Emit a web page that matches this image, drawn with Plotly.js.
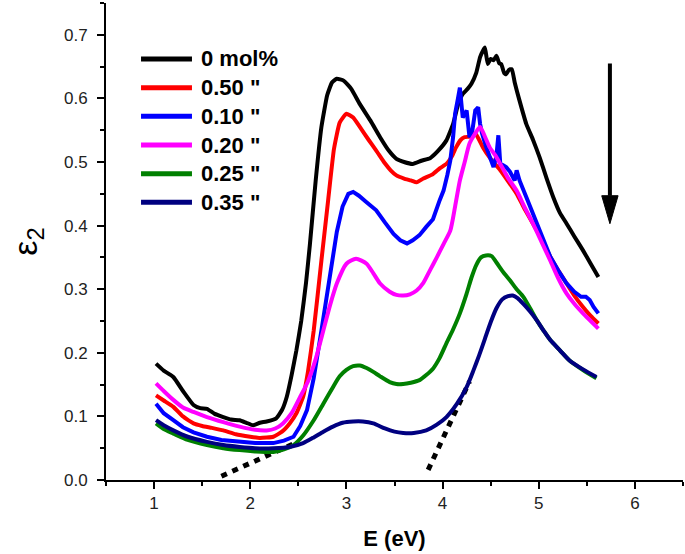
<!DOCTYPE html>
<html><head><meta charset="utf-8">
<script src="https://cdn.plot.ly/plotly-3.0.1.min.js"></script>
<style>html,body{margin:0;padding:0;background:#fff}#chart{width:685px;height:554px}</style>
</head><body><div id="chart"></div>
<script>
// Series names (legend)
const seriesNames = ['0 mol%', '0.50 "', '0.10 "', '0.20 "', '0.25 "', '0.35 "'];
const seriesColors = ['#000000', '#ff0000', '#0000ff', '#ff00ff', '#008000', '#000080'];

// 0 mol%
const x0 = [1.02,1.1,1.2,1.3,1.41,1.48,1.55,1.63,1.72,1.8,1.89,1.96,2.03,2.1,2.17,2.27,2.33,2.38,2.43,2.48,2.53,2.58,2.62,2.68,2.74,2.8,2.85,2.9,2.97,3.05,3.14,3.25,3.35,3.44,3.52,3.6,3.69,3.78,3.87,3.95,4.04,4.11,4.16,4.21,4.26,4.3,4.35,4.39,4.42,4.44,4.47,4.5,4.53,4.56,4.59,4.61,4.64,4.66,4.69,4.72,4.75,4.79,4.87,4.94,5.01,5.08,5.15,5.22,5.29,5.37,5.46,5.54,5.62];
const y0 = [0.183,0.172,0.162,0.14,0.118,0.113,0.112,0.104,0.099,0.095,0.094,0.09,0.086,0.09,0.092,0.097,0.11,0.131,0.165,0.204,0.25,0.31,0.37,0.47,0.555,0.605,0.625,0.631,0.628,0.615,0.591,0.565,0.539,0.518,0.505,0.5,0.497,0.502,0.506,0.517,0.534,0.56,0.59,0.607,0.615,0.623,0.64,0.665,0.675,0.68,0.654,0.662,0.66,0.667,0.655,0.654,0.64,0.638,0.645,0.646,0.625,0.602,0.56,0.535,0.507,0.475,0.445,0.42,0.403,0.383,0.361,0.34,0.319];

// 0.50 "
const x1 = [1.02,1.1,1.2,1.3,1.41,1.5,1.6,1.72,1.85,2.0,2.1,2.24,2.33,2.41,2.48,2.55,2.6,2.66,2.74,2.81,2.87,2.93,3.0,3.07,3.15,3.23,3.31,3.4,3.46,3.52,3.6,3.67,3.73,3.8,3.9,3.97,4.04,4.1,4.14,4.19,4.23,4.28,4.34,4.38,4.42,4.5,4.6,4.68,4.77,4.85,4.94,5.03,5.12,5.2,5.29,5.37,5.46,5.54,5.62];
const y1 = [0.133,0.125,0.115,0.1,0.089,0.085,0.082,0.078,0.072,0.068,0.066,0.068,0.076,0.089,0.105,0.131,0.17,0.235,0.345,0.44,0.52,0.562,0.576,0.57,0.553,0.535,0.518,0.498,0.487,0.479,0.474,0.471,0.468,0.474,0.481,0.49,0.497,0.51,0.523,0.535,0.539,0.54,0.545,0.535,0.523,0.505,0.487,0.47,0.45,0.427,0.403,0.378,0.351,0.33,0.309,0.29,0.272,0.258,0.246];

// 0.10 "
const x2 = [1.02,1.1,1.2,1.3,1.41,1.55,1.7,1.89,2.05,2.24,2.35,2.45,2.52,2.59,2.66,2.74,2.8,2.85,2.9,2.96,3.02,3.07,3.13,3.2,3.31,3.4,3.49,3.56,3.63,3.69,3.76,3.83,3.9,3.97,4.01,4.05,4.08,4.11,4.13,4.16,4.18,4.2,4.21,4.23,4.25,4.28,4.31,4.34,4.37,4.39,4.41,4.45,4.49,4.53,4.56,4.58,4.59,4.6,4.63,4.66,4.7,4.75,4.77,4.8,4.87,4.94,5.03,5.12,5.2,5.29,5.37,5.44,5.49,5.53,5.57,5.62];
const y2 = [0.12,0.105,0.094,0.083,0.075,0.068,0.063,0.06,0.058,0.058,0.062,0.068,0.085,0.11,0.16,0.235,0.29,0.345,0.39,0.43,0.45,0.453,0.447,0.438,0.424,0.405,0.387,0.377,0.372,0.377,0.385,0.398,0.41,0.44,0.455,0.48,0.502,0.54,0.576,0.6,0.617,0.585,0.57,0.575,0.581,0.539,0.55,0.581,0.586,0.56,0.545,0.525,0.507,0.492,0.51,0.542,0.52,0.497,0.495,0.492,0.485,0.471,0.487,0.471,0.445,0.419,0.385,0.351,0.33,0.309,0.296,0.288,0.288,0.283,0.272,0.262];

// 0.20 "
const x3 = [1.02,1.1,1.2,1.3,1.41,1.55,1.72,1.89,2.05,2.17,2.26,2.34,2.43,2.52,2.6,2.68,2.76,2.83,2.9,3.0,3.1,3.21,3.28,3.35,3.45,3.52,3.59,3.66,3.73,3.8,3.87,3.94,4.01,4.08,4.13,4.18,4.23,4.28,4.34,4.39,4.44,4.49,4.55,4.6,4.68,4.77,4.85,4.94,5.03,5.12,5.2,5.29,5.37,5.46,5.54,5.62];
const y3 = [0.152,0.14,0.126,0.114,0.107,0.099,0.091,0.084,0.079,0.078,0.081,0.089,0.105,0.131,0.155,0.19,0.235,0.275,0.309,0.34,0.348,0.34,0.325,0.309,0.296,0.291,0.29,0.292,0.298,0.31,0.33,0.35,0.371,0.392,0.43,0.471,0.5,0.529,0.545,0.555,0.54,0.523,0.51,0.497,0.475,0.455,0.43,0.403,0.374,0.345,0.318,0.293,0.277,0.262,0.25,0.238];

// 0.25 "
const x4 = [1.02,1.1,1.2,1.35,1.55,1.72,1.89,2.05,2.24,2.35,2.45,2.55,2.66,2.76,2.86,2.93,3.0,3.07,3.14,3.21,3.28,3.35,3.45,3.52,3.59,3.67,3.76,3.83,3.9,3.97,4.04,4.11,4.18,4.25,4.3,4.35,4.4,4.45,4.51,4.56,4.63,4.7,4.77,4.84,4.91,4.98,5.05,5.12,5.22,5.32,5.46,5.6];
const y4 = [0.089,0.08,0.073,0.063,0.055,0.05,0.047,0.045,0.044,0.048,0.055,0.07,0.094,0.12,0.146,0.163,0.173,0.179,0.18,0.176,0.17,0.163,0.154,0.151,0.151,0.153,0.157,0.165,0.175,0.192,0.215,0.237,0.262,0.293,0.318,0.338,0.35,0.353,0.352,0.342,0.327,0.314,0.3,0.288,0.27,0.251,0.235,0.22,0.204,0.188,0.173,0.16];

// 0.35 "
const x5 = [1.02,1.1,1.2,1.35,1.55,1.72,1.89,2.05,2.24,2.41,2.55,2.66,2.76,2.86,2.96,3.07,3.17,3.28,3.4,3.5,3.59,3.7,3.83,3.94,4.04,4.15,4.25,4.32,4.38,4.44,4.5,4.56,4.62,4.68,4.73,4.78,4.84,4.91,4.98,5.05,5.12,5.22,5.32,5.46,5.6];
const y5 = [0.094,0.086,0.078,0.068,0.06,0.055,0.052,0.05,0.05,0.052,0.058,0.067,0.076,0.084,0.09,0.092,0.092,0.089,0.081,0.076,0.074,0.074,0.078,0.087,0.099,0.12,0.146,0.172,0.196,0.222,0.248,0.27,0.284,0.289,0.29,0.286,0.277,0.265,0.251,0.235,0.22,0.204,0.188,0.174,0.162];

// Tangent (extrapolation) lines
const tangent1X = [1.70, 2.45];
const tangent1Y = [0.006, 0.057];
const tangent2X = [3.85, 4.28];
const tangent2Y = [0.016, 0.155];

// Arrow (trend)
const arrowX = 5.74;
const arrowY = [0.655, 0.403];

const xs = [x0, x1, x2, x3, x4, x5];
const ys = [y0, y1, y2, y3, y4, y5];
const lineShapes = ['spline', 'spline', 'linear', 'spline', 'spline', 'spline'];

const traces = [];
traces.push({x: tangent1X, y: tangent1Y, mode: 'lines', line: {color: '#000', width: 5, dash: '6px,6px'}, showlegend: false, hoverinfo: 'skip'});
traces.push({x: tangent2X, y: tangent2Y, mode: 'lines', line: {color: '#000', width: 5, dash: '6px,6px'}, showlegend: false, hoverinfo: 'skip'});
for (let i = 0; i < 6; i++) {
  traces.push({
    x: xs[i], y: ys[i], name: seriesNames[i], mode: 'lines',
    line: {color: seriesColors[i], width: 4, shape: lineShapes[i], smoothing: i < 2 ? 0.4 : 0.6},
    showlegend: false
  });
}

const shapes = [];
const annotations = [];
// Manual legend
const legTop = 0.8826, legStep = 0.0601;
for (let i = 0; i < 6; i++) {
  const yy = legTop - i * legStep;
  shapes.push({type: 'line', xref: 'paper', yref: 'paper', x0: 0.0607, x1: 0.149, y0: yy, y1: yy,
    line: {color: seriesColors[i], width: 5}});
  annotations.push({xref: 'paper', yref: 'paper', x: 0.162, y: yy, xanchor: 'left', yanchor: 'middle',
    text: '<b>' + seriesNames[i] + '</b>', showarrow: false,
    font: {family: 'Arial, Liberation Sans, sans-serif', size: 22, color: '#000'}});
}
// Arrow
const headLen = 0.044, headHalf = 0.085;
shapes.push({type: 'line', xref: 'x', yref: 'y', x0: arrowX, x1: arrowX, y0: arrowY[0], y1: arrowY[1] + headLen,
  line: {color: '#000', width: 4}});
shapes.push({type: 'path', xref: 'x', yref: 'y',
  path: 'M' + (arrowX - headHalf) + ',' + (arrowY[1] + headLen) + ' L' + (arrowX + headHalf) + ',' + (arrowY[1] + headLen) + ' L' + arrowX + ',' + arrowY[1] + ' Z',
  fillcolor: '#000', line: {color: '#000', width: 1}});

const layout = {
  width: 685, height: 554,
  margin: {l: 106, r: 2, t: 3, b: 74},
  paper_bgcolor: '#fff', plot_bgcolor: '#fff',
  font: {family: 'Arial, Liberation Sans, sans-serif', color: '#000'},
  showlegend: false,
  xaxis: {
    range: [0.5, 6.5], dtick: 1, tick0: 0, ticks: 'outside', ticklen: 7, tickwidth: 2, tickcolor: '#000',
    showline: true, linewidth: 2, linecolor: '#000', showgrid: false, zeroline: false,
    tickfont: {size: 17, color: '#222'},
    minor: {dtick: 0.5, ticks: 'outside', ticklen: 4, tickwidth: 2, tickcolor: '#000', showgrid: false},
    title: {text: '<b>E (eV)</b>', font: {size: 22, color: '#000'}, standoff: 18}
  },
  yaxis: {
    range: [0, 0.75], dtick: 0.1, tick0: 0, tickformat: '.1f', ticks: 'outside', ticklen: 7, tickwidth: 2, tickcolor: '#000',
    showline: true, linewidth: 2, linecolor: '#000', showgrid: false, zeroline: false,
    tickfont: {size: 17, color: '#222'}, ticklabelstandoff: 6,
    minor: {dtick: 0.05, ticks: 'outside', ticklen: 4, tickwidth: 2, tickcolor: '#000', showgrid: false},
    title: {text: 'ε<sub>2</sub>', font: {size: 34, color: '#000'}, standoff: 16}
  },
  shapes: shapes,
  annotations: annotations
};

Plotly.newPlot('chart', traces, layout, {displayModeBar: false, staticPlot: true});
</script>
</body></html>
